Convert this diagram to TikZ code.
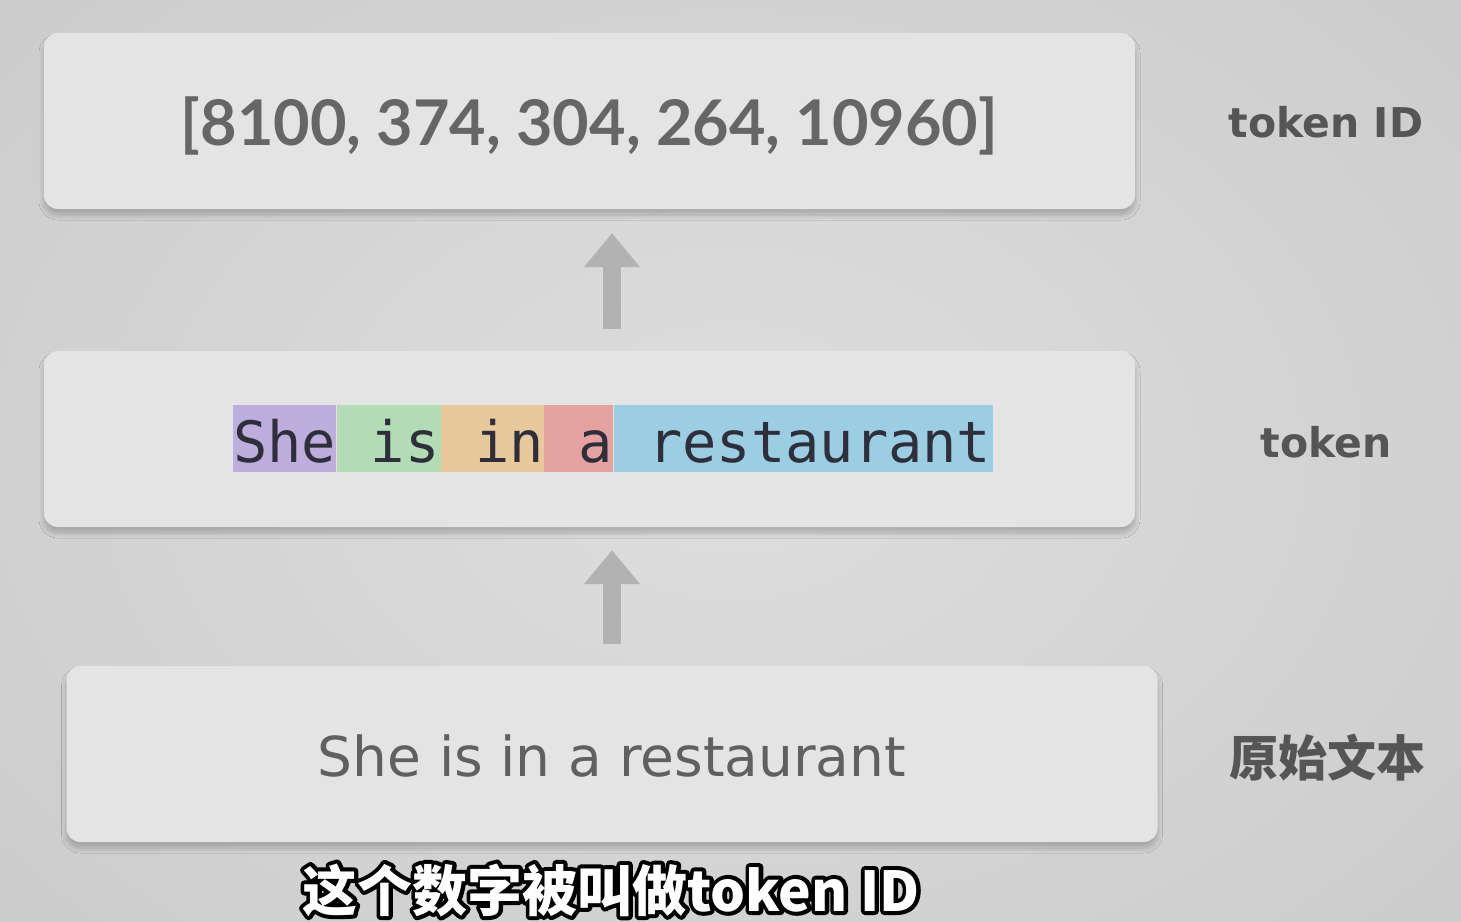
\documentclass[tikz,border=0pt]{standalone}
\usepackage{fontspec}
\usetikzlibrary{shadows,shadows.blur,arrows.meta}
\newfontfamily\numfont{Lato}
\newfontfamily\monofont{DejaVu Sans Mono}
\newfontfamily\labfont{DejaVu Sans}
\newfontfamily\cjkfont{Noto Sans CJK SC}
\definecolor{bgin}{HTML}{DEDEDE}
\definecolor{bgout}{HTML}{CDCDCD}
\definecolor{panelc}{HTML}{E4E4E4}
\definecolor{numc}{HTML}{666666}
\definecolor{labc}{HTML}{555555}
\definecolor{plainc}{HTML}{606060}
\definecolor{arrowc}{HTML}{B2B2B2}
\definecolor{tokc}{HTML}{2F2F3C}
\definecolor{tpurple}{HTML}{BDAEDE}
\definecolor{tgreen}{HTML}{B1DCB5}
\definecolor{torange}{HTML}{E9C99B}
\definecolor{tred}{HTML}{E6A1A1}
\definecolor{tblue}{HTML}{9BCDE3}
\newcommand\outl[1]{\rlap{\color{black}\special{pdf:literal direct 2 Tr 8 w 1 j}#1\special{pdf:literal direct 0 Tr}}#1}
\tikzset{
  panel/.style={rounded corners=14pt, fill=panelc, inner sep=0pt,
    minimum width=1091pt, minimum height=176pt,
    blur shadow={shadow xshift=0pt, shadow yshift=-6pt,
      shadow blur radius=5pt, shadow blur steps=16, shadow opacity=22}},
  tok/.style={anchor=north west, inner sep=0pt, minimum height=67pt,
    text height=57pt, text depth=10pt, align=left, text=tokc,
    font=\monofont\fontsize{57}{60}\selectfont},
  upar/.style={draw=arrowc, line width=18pt,
    -{Triangle[width=54pt,length=34pt]}},
  lab/.style={anchor=base, inner sep=0pt, text=labc,
    font=\labfont\bfseries\fontsize{41}{48}\selectfont},
}
\begin{document}
\begin{tikzpicture}[x=1pt,y=-1pt]
\useasboundingbox (0,0) rectangle (1461,921);
\shade[inner color=bgin, outer color=bgout] (-200,-200) rectangle (1661,1121);
% panels
\node[panel] (ids) at (589.5,121) {};
\node[panel] (toks) at (589.5,439) {};
\node[panel] (raw) at (612,754) {};
% token ID text
\node[anchor=base, inner sep=0pt, text=numc,
  font=\numfont\bfseries\fontsize{63}{70}\selectfont] (idtext) at (589.5,145) {[8100, 374, 304, 264, 10960]};
% tokens
\node[tok, fill=tpurple, text width=103pt] (t1) at (233,405) {She};
\node[tok, fill=tgreen, text width=104pt] (t2) at (t1.north east) {\phantom{x}is};
\node[tok, fill=torange, text width=103pt] (t3) at (t2.north east) {\phantom{x}in};
\node[tok, fill=tred, text width=69pt] (t4) at (t3.north east) {\phantom{x}a};
\node[tok, fill=tblue, text width=379pt] (t5) at (t4.north east) {\phantom{x}restaurant};
% raw text
\node[anchor=base, inner sep=0pt, text=plainc,
  font=\labfont\fontsize{55}{62}\selectfont] (rawtext) at (612,776) {She is in a restaurant};
% arrows
\coordinate (ax) at (612,0);
\draw[upar, shorten <=22pt, shorten >=24pt] (toks.north -| ax) -- (ids.south -| ax);
\draw[upar, shorten <=22pt, shorten >=23pt] (raw.north -| ax) -- (toks.south -| ax);
% labels
\node[lab] (l1) at (1326,137) {token ID};
\node[lab] (l2) at (1326,457) {token};
\node[anchor=base, inner sep=0pt, text=labc,
  font=\cjkfont\bfseries\fontsize{49}{56}\selectfont] (l3) at (1327,776) {原始文本};
% subtitle
\node[anchor=base, inner sep=0pt, text=white,
  font=\cjkfont\bfseries\fontsize{55}{62}\selectfont] (sub) at (611,911) {\outl{这个数字被叫做token ID}};
\end{tikzpicture}
\end{document}
